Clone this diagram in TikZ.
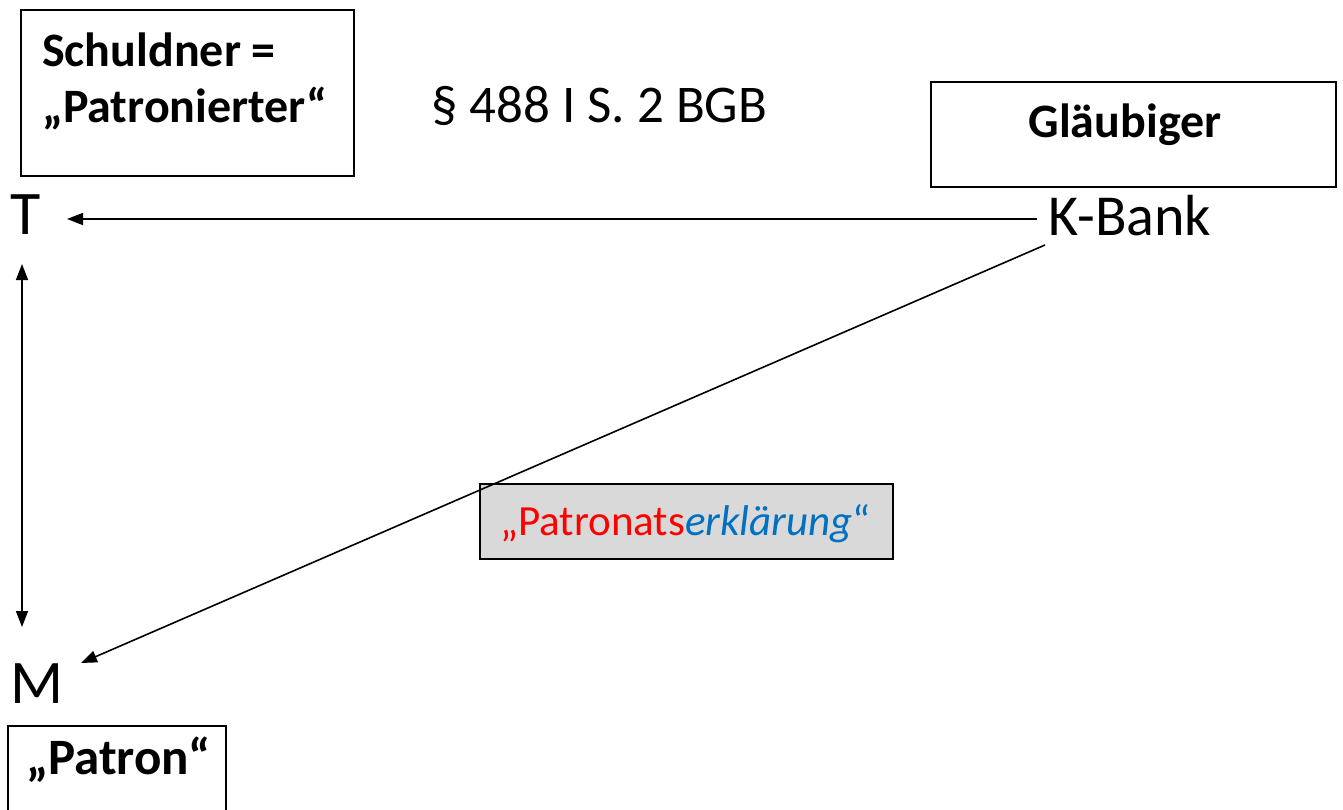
\documentclass[tikz,border=0pt]{standalone}
\usepackage{fontspec}
\setmainfont{Carlito}
\usetikzlibrary{arrows.meta}
\definecolor{boxgray}{HTML}{D9D9D9}
\definecolor{redtxt}{HTML}{FF0000}
\definecolor{bluetxt}{HTML}{0070C0}
\begin{document}
\begin{tikzpicture}[x=1pt,y=-1pt,
  frame/.style={draw=black,line width=1.8pt},
  lbl/.style={inner sep=0pt,anchor=base west,font=\fontsize{62}{66}\selectfont},
  blbl/.style={inner sep=0pt,anchor=base west,font=\fontsize{48}{56}\selectfont\bfseries},
  conn/.style={line width=1.6pt,-{Triangle[length=16pt,width=12pt]}},
  dconn/.style={line width=1.6pt,{Triangle[length=16pt,width=12pt]}-{Triangle[length=16pt,width=12pt]}}]
\useasboundingbox (0,0) rectangle (1343,810);
% boxes
\draw[frame] (21,10) rectangle (354,176);
\draw[frame] (931,82) rectangle (1336,187);
\draw[frame] (8,726) rectangle (226,815);
\draw[frame,fill=boxgray] (480,484) rectangle (893,559);
% box texts
\node[blbl] (schuldner) at (42,67) {Schuldner =};
\node[blbl] (patronierter) at (42,123) {„Patronierter“};
\node[blbl,anchor=base] (glaeubiger) at (1125,138) {Gläubiger};
\node[blbl,font=\fontsize{51}{56}\selectfont\bfseries] (patron) at (26,774) {„Patron“};
\node[inner sep=0pt,anchor=base west,font=\fontsize{43}{48}\selectfont] (erkl) at (500,535)
  {\textcolor{redtxt}{„Patronats}\textcolor{bluetxt}{\itshape erklärung}\textcolor{bluetxt}{“}};
% main labels
\node[lbl] (T) at (10,235) {T};
\node[lbl,font=\fontsize{58}{62}\selectfont] (K) at (1048,236) {K-Bank};
\node[lbl] (M) at (10,703) {M};
\node[lbl,font=\fontsize{53}{58}\selectfont] (para) at (431,123) {§ 488 I S. 2 BGB};
% connectors
\coordinate (kl) at (1037,219);
\coordinate (tr) at (67,219);
\coordinate (kd) at (1045,245);
\coordinate (mr) at (81,663);
\coordinate (tb) at (22,264);
\coordinate (mt) at (22,627);
\draw[conn] (kl) -- (tr);
\draw[conn] (kd) -- (mr);
\draw[dconn] (tb) -- (mt);
\end{tikzpicture}
\end{document}
